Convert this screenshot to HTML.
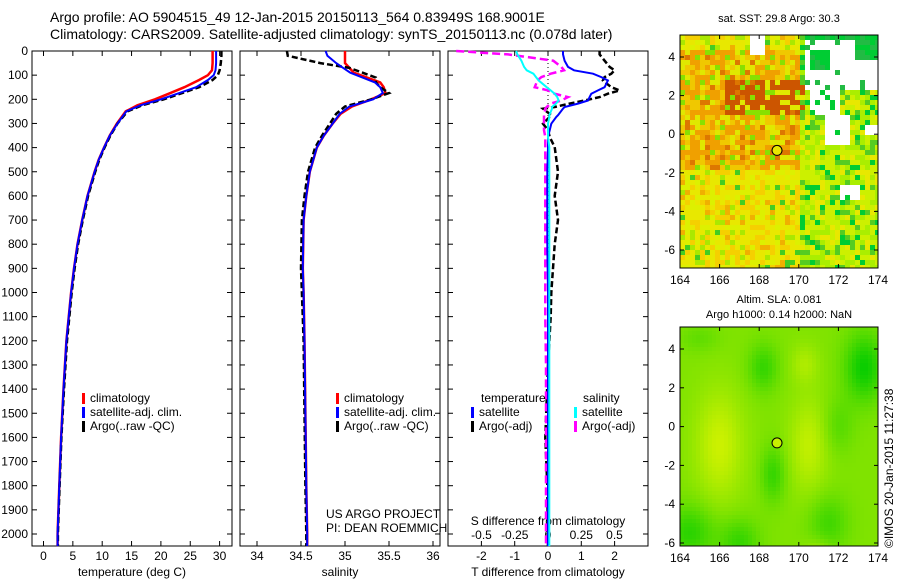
<!DOCTYPE html>
<html><head><meta charset="utf-8">
<style>
body{margin:0;background:#fff;}
svg{display:block;font-family:"Liberation Sans",sans-serif;}
</style></head>
<body>
<svg id="fig" width="900" height="580" viewBox="0 0 900 580" xmlns="http://www.w3.org/2000/svg">
<text x="50" y="22" font-size="14">Argo profile: AO 5904515_49 12-Jan-2015 20150113_564 0.83949S 168.9001E</text>
<text x="50" y="39" font-size="14">Climatology: CARS2009. Satellite-adjusted climatology: synTS_20150113.nc (0.078d later)</text>
<g id="p1"></g>
<g id="p2"></g>
<g id="p3"></g>
<g id="m1"></g>
<g id="m2"></g>
<text transform="translate(893,548) rotate(-90)" font-size="12">©IMOS 20-Jan-2015 11:27:38</text>
</svg>
<script>
// ---- data ----
const depthTicks=[0,100,200,300,400,500,600,700,800,900,1000,1100,1200,1300,1400,1500,1600,1700,1800,1900,2000];
const tempTicks=[0,5,10,15,20,25,30];
const salTicks=[34,34.5,35,35.5,36];
const salTickLabels=["34","34.5","35","35.5","36"];
const tdTicks=[-2,-1,0,1,2];
const sdTickLabels=["-0.5","-0.25","0","0.25","0.5"];
const profDepth=[0,20,50,80,100,120,150,175,200,225,250,300,350,400,450,500,600,700,800,900,1000,1200,1400,1600,1800,2000,2050];
const tempClim=[28.8,28.8,28.8,28.7,28,26.5,24,21.5,19,16,14,12.5,11.3,10.3,9.4,8.7,7.5,6.6,5.8,5.2,4.7,3.9,3.4,3,2.7,2.4,2.4];
const tempSat=[29.4,29.4,29.4,29.3,29,28,26,23,20,16.5,14.1,12.6,11.3,10.3,9.4,8.7,7.5,6.6,5.8,5.2,4.7,3.9,3.4,3,2.7,2.4,2.4];
const tempArgo=[30.3,30.3,30.2,30,29.7,28.8,26.5,23.5,20.5,16.8,14.3,12.6,11.4,10.4,9.5,8.8,7.6,6.7,5.9,5.3,4.8,4,3.5,3.05,2.75,2.45,2.45];
const salDepth=[0,20,50,70,90,110,130,150,174,200,230,260,300,350,400,500,600,700,900,1000,1200,1500,1800,2000,2050];
const salClim=[35.0,35.0,35.0,35.05,35.1,35.25,35.4,35.44,35.46,35.3,35.08,34.95,34.86,34.76,34.68,34.6,34.56,34.53,34.52,34.53,34.54,34.55,34.56,34.57,34.57];
const salSat=[34.78,34.8,34.9,34.98,35.06,35.2,35.34,35.4,35.43,35.32,35.05,34.94,34.86,34.76,34.68,34.6,34.56,34.53,34.52,34.53,34.54,34.55,34.56,34.57,34.57];
const salArgo=[34.34,34.35,34.72,35.05,35.2,35.35,35.35,35.4,35.5,35.3,35.0,34.9,34.83,34.74,34.66,34.58,34.54,34.51,34.5,34.51,34.53,34.54,34.55,34.56,34.56];
const diffDepth=[0,14,40,66,80,94,108,122,150,163,177,191,205,218,232,239,266,273,301,328,356,398,500,600,700,800,1000,1100,1300,1600,1800,2050];
const tdSat=[0.45,0.45,0.5,0.6,0.78,1.35,1.6,1.8,1.7,1.5,1.3,1.25,1.2,0.9,0.5,0.45,0.3,0.25,0.1,0.05,0,0,-0.02,-0.02,-0.02,-0.02,0,0,0,0,0,0];
const tdArgo=[1.55,1.55,1.7,1.85,2.0,1.9,1.7,1.65,1.9,2.15,1.8,1.55,1.1,0.65,0.2,-0.15,0.1,0.05,-0.15,0.0,0.05,0.2,0.3,0.2,0.3,0.2,0.1,0.08,0,-0.08,-0.02,0];
const sdSat=[-0.24,-0.23,-0.2,-0.18,-0.16,-0.11,-0.09,-0.07,-0.01,0.02,0.05,0.07,0.08,0.06,0.03,0.03,0.01,0.01,0.0,0.0,0.0,0.01,0.01,0.01,0.01,0.01,0.01,0.01,0.01,0.01,0.01,0.01];
const sdArgo=[-0.69,-0.3,0.04,0.1,0.12,0.02,-0.05,-0.08,-0.1,0.0,0.05,0.15,0.1,0.02,-0.01,-0.02,-0.03,-0.03,-0.03,-0.03,-0.02,-0.02,-0.02,-0.02,-0.02,-0.02,-0.02,-0.02,-0.015,-0.015,-0.015,-0.015];
const mapXTicks=[164,166,168,170,172,174];
const mapYTicks=[4,2,0,-2,-4,-6];
const argoLon=168.9, argoLat=-0.84;

// ---- helpers ----
const NS="http://www.w3.org/2000/svg";
function mk(tag,attrs,parent){const e=document.createElementNS(NS,tag);for(const k in attrs)e.setAttribute(k,attrs[k]);parent.appendChild(e);return e;}
function txt(parent,x,y,s,size,anchor){const t=mk('text',{x:x,y:y,'font-size':size,'text-anchor':anchor||'start'},parent);t.textContent=s;return t;}
const top0=51,bot0=546;
const yD=d=>51+d*0.2415;

function panel(g,x0,x1,xs,ticks,labels,xlab,name){
  const r=mk('rect',{x:x0,y:top0,width:x1-x0,height:bot0-top0,fill:'none',stroke:'#000','stroke-width':1},g);
  
  
  depthTicks.forEach(d=>{mk('line',{x1:x0,x2:x0+5,y1:yD(d),y2:yD(d),stroke:'#000'},g);mk('line',{x1:x1,x2:x1-5,y1:yD(d),y2:yD(d),stroke:'#000'},g);});
  ticks.forEach((v,i)=>{const x=xs(v);mk('line',{x1:x,x2:x,y1:bot0,y2:bot0-5,stroke:'#000'},g);mk('line',{x1:x,x2:x,y1:top0,y2:top0+5,stroke:'#000'},g);
    const t=txt(g,x,560,labels[i],12,'middle');});
  const xl=txt(g,(x0+x1)/2,576,xlab,12,'middle');
  
  
}
function line(g,xs,vals,depths,color,w,dash,name){
  const pts=vals.map((v,i)=>xs(v).toFixed(1)+','+yD(depths[i]).toFixed(1)).join(' ');
  const p=mk('polyline',{points:pts,fill:'none',stroke:color,'stroke-width':w},g);
  if(dash)p.setAttribute('stroke-dasharray',dash);
  
  
}
function legend(g,x,y,items){
  items.forEach((it,i)=>{const yy=y+i*14;
    mk('rect',{x:x,y:yy-9,width:3,height:11,fill:it[1]},g);
    const t=txt(g,x+8,yy,it[0],12);
    
    });
}

// panel 1
const g1=document.getElementById('p1');
const xT=v=>43.5+v*5.87;
panel(g1,32,232,xT,tempTicks,tempTicks.map(String),'temperature (deg C)','temperature');
depthTicks.forEach(d=>{const t=txt(g1,28,yD(d)+4,String(d),12,'end');});
line(g1,xT,tempClim,profDepth,'#f00',2.5,null,'temp-climatology-line');
line(g1,xT,tempArgo,profDepth,'#000',2.5,'6,3','temp-argo-line');
line(g1,xT,tempSat,profDepth,'#00f',2,null,'temp-satellite-line');
legend(g1,82,402,[['climatology','#f00'],['satellite-adj. clim.','#00f'],['Argo(..raw -QC)','#000']]);

// panel 2
const g2=document.getElementById('p2');
const xS=v=>257+(v-34)*88;
panel(g2,240,440,xS,salTicks,salTickLabels,'salinity','salinity');
line(g2,xS,salClim,salDepth,'#f00',2.5,null,'sal-climatology-line');
line(g2,xS,salArgo,salDepth,'#000',2.5,'6,3','sal-argo-line');
line(g2,xS,salSat,salDepth,'#00f',2,null,'sal-satellite-line');
legend(g2,336,402,[['climatology','#f00'],['satellite-adj. clim.','#00f'],['Argo(..raw -QC)','#000']]);
txt(g2,326,518,'US ARGO PROJECT',12);
txt(g2,326,532,'PI: DEAN ROEMMICH',12);

// panel 3
const g3=document.getElementById('p3');
const xTD=v=>548+v*33.3;
const xSD=v=>548+v*133;
panel(g3,448,648,xTD,tdTicks,tdTicks.map(String),'T difference from climatology','difference');
mk('line',{x1:548,x2:548,y1:top0,y2:bot0,stroke:'#000','stroke-dasharray':'1,3'},g3);
txt(g3,548,525,'S difference from climatology',12,'middle');
sdTickLabels.forEach((s,i)=>txt(g3,xSD(-0.5+i*0.25),539,s,12,'middle'));
line(g3,xTD,tdArgo,diffDepth,'#000',2.5,'6,3','tdiff-argo-line');
line(g3,xSD,sdArgo,diffDepth,'#f0f',2.5,'8,4','sdiff-argo-line');
line(g3,xTD,tdSat,diffDepth,'#00f',2,null,'tdiff-satellite-line');
line(g3,xSD,sdSat,diffDepth,'#0ff',2,null,'sdiff-satellite-line');
txt(g3,481,402,'temperature',12);
txt(g3,583,402,'salinity',12);
legend(g3,471,416,[['satellite','#00f'],['Argo(-adj)','#000']]);
legend(g3,574,416,[['satellite','#0ff'],['Argo(-adj)','#f0f']]);

// maps
function hash(i,j,s){let h=(i*374761393+j*668265263+s*982451653)|0;h=(h^(h>>>13))*1274126177|0;return ((h^(h>>>16))>>>0)/4294967296;}
function mapAxes(g,x0,y0,x1,y1,lat2y,name){
  mapXTicks.forEach(v=>{const x=x0+(v-164)/10*(x1-x0);mk('line',{x1:x,x2:x,y1:y1,y2:y1-4,stroke:'#000'},g);mk('line',{x1:x,x2:x,y1:y0,y2:y0+4,stroke:'#000'},g);txt(g,x,y1+16,String(v),12,'middle');});
  mapYTicks.forEach(v=>{const y=lat2y(v);mk('line',{x1:x0,x2:x0+4,y1:y,y2:y,stroke:'#000'},g);mk('line',{x1:x1,x2:x1-4,y1:y,y2:y,stroke:'#000'},g);txt(g,x0-5,y+4,String(v),12,'end');});
  const r=mk('rect',{x:x0,y:y0,width:x1-x0,height:y1-y0,fill:'none',stroke:'#000'},g);
  
  
}
// map 1 SST
(function(){
  const g=document.getElementById('m1');const x0=680,x1=878,y0=35,y1=268;
  const lat2y=v=>57+(4-v)*19.3;
  txt(g,779,22,'sat. SST: 29.8 Argo: 30.3',11,'middle');
  const cs=5;const cols=Math.ceil((x1-x0)/cs),rows=Math.ceil((y1-y0)/cs);
  for(let j=0;j<rows;j++)for(let i=0;i<cols;i++){
    const lon=164+(i+0.5)*cs/(x1-x0)*10, lat=5.15-(j+0.5)*cs/19.3;
    const r=hash(i,j,1);let c;
    const white=(lon>170.3&&lat>2.3&&lat<4.9&&!(lon>170.6&&lon<171.6&&lat>3.3&&lat<4.3)&&!(lon>172.8&&lat>3.8))||(lon>170.6&&lon<172.2&&lat>0.9&&lat<2.4)||(lon>171.3&&lon<172.7&&lat>-0.5&&lat<0.9)||(lon>173.3&&lat<0.5&&lat>-0.1)||(lon>167.6&&lon<168.3&&lat>4.2)||(lon>172.1&&lon<173.2&&lat>-3.4&&lat<-2.6);
    if(white&&r<0.92){c='#fff';}
    else if(lon>170.3&&lat>2.3){c=r<0.6?'#00cc33':'#22bb44';}
    else if(lon>166.3&&lon<170.2&&lat>0.9&&lat<2.7&&r<0.7)c='#cc5500';
    else if(lon<170&&lat>-1.8&&lat<4.5){c=r<0.4?'#f0a000':(r<0.65?'#f0c800':(r<0.83?'#e0e800':(r<0.93?'#88e000':'#dd7700')));}
    else if(lon>170){c=r<0.35?'#ccf000':(r<0.6?'#aaee00':(r<0.75?'#55cc22':(r<0.9?'#e8e800':'#00cc33')));}
    else c=r<0.42?'#e8e800':(r<0.65?'#f5d000':(r<0.82?'#ddf000':(r<0.9?'#aae800':(r<0.96?'#f0b000':'#44cc22'))));
    const w=Math.min(cs,x1-(x0+i*cs)),h=Math.min(cs,y1-(y0+j*cs));
    mk('rect',{x:x0+i*cs,y:y0+j*cs,width:w+0.3,height:h+0.3,fill:c},g);
  }
  mapAxes(g,x0,y0,x1,y1,lat2y,'sst-map');
  mk('circle',{cx:x0+(argoLon-164)/10*(x1-x0),cy:lat2y(argoLat),r:5,fill:'#e8e800',stroke:'#000'},g);
})();
// map 2 SLA
(function(){
  const g=document.getElementById('m2');const x0=680,x1=878,y0=327,y1=546;
  const lat2y=v=>349+(4-v)*19.4;
  txt(g,779,303,'Altim. SLA: 0.081',11,'middle');
  txt(g,779,318,'Argo h1000: 0.14 h2000: NaN',11,'middle');
  const cs=4;const cols=Math.ceil((x1-x0)/cs),rows=Math.ceil((y1-y0)/cs);
  const blobs=[[166,-1,1.5,8,0.35],[170.5,-1,1,6,0.3],[170.3,3.2,0.5,1,0.2],[173.3,3,1,3,-0.55],[168.2,3,0.6,1.5,-0.35],[168.7,-2.5,0.4,2,-0.35],[164.5,-5.5,1.5,2,-0.4],[167,-6,1,1.5,-0.35],[171.5,-5,1,2,-0.3],[165,4.5,1,0.5,-0.15],[172,0,0.6,2,-0.2],[171,-6.5,0.5,0.5,0.2]];
  for(let j=0;j<rows;j++)for(let i=0;i<cols;i++){
    const lon=164+(i+0.5)*cs/(x1-x0)*10, lat=5.1-(j+0.5)*cs/19.4;
    let v=0.55;
    blobs.forEach(b=>{v+=b[4]*Math.exp(-((lon-b[0])**2/b[2]+(lat-b[1])**2/b[3]));});
    v=Math.max(0,Math.min(1,v));
    const rr=Math.round(10+v*215),gg=Math.round(205+v*40);
    mk('rect',{x:x0+i*cs,y:y0+j*cs,width:Math.min(cs,x1-(x0+i*cs))+0.3,height:Math.min(cs,y1-(y0+j*cs))+0.3,fill:`rgb(${rr},${gg},0)`},g);
  }
  mapAxes(g,x0,y0,x1,y1,lat2y,'sla-map');
  mk('circle',{cx:x0+(argoLon-164)/10*(x1-x0),cy:lat2y(argoLat),r:5,fill:'#c8f000',stroke:'#000'},g);
})();
</script>
</body></html>
